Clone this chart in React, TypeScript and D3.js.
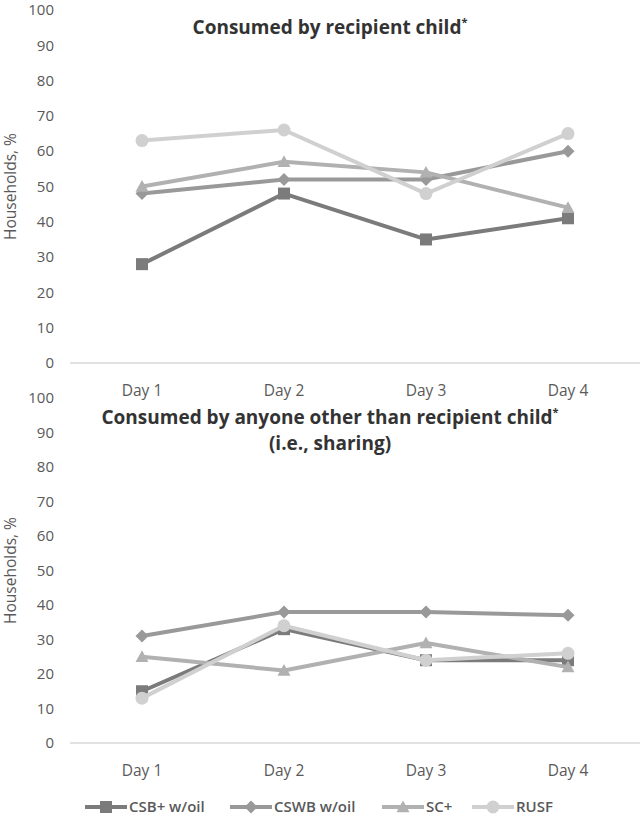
import React from "react";
import * as d3 from "d3";

const days = ["Day 1", "Day 2", "Day 3", "Day 4"];
const seriesNames = ["CSB+ w/oil", "CSWB w/oil", "SC+", "RUSF"];
const seriesColors = ["#7b7b7b", "#999999", "#b1b1b1", "#d0d0d0"];
const seriesMarkers = ["square", "diamond", "triangle", "circle"];

const recipientCSB = [28, 48, 35, 41];
const recipientCSWB = [48, 52, 52, 60];
const recipientSC = [50, 57, 54, 44];
const recipientRUSF = [63, 66, 48, 65];

const sharingCSB = [15, 33, 24, 24];
const sharingCSWB = [31, 38, 38, 37];
const sharingSC = [25, 21, 29, 22];
const sharingRUSF = [13, 34, 24, 26];

const yTicks = [0, 10, 20, 30, 40, 50, 60, 70, 80, 90, 100];

const FONT = "'Open Sans', 'Noto Sans', sans-serif";
const TEXT = "#595959";

function Marker({ type, x, y, color, s = 1 }: any) {
  if (type === "square") {
    const h = 6 * s;
    return <rect x={x - h} y={y - h} width={2 * h} height={2 * h} fill={color} />;
  }
  if (type === "diamond") {
    const h = 6.5 * s;
    return <path d={`M${x},${y - h}L${x + h},${y}L${x},${y + h}L${x - h},${y}Z`} fill={color} />;
  }
  if (type === "triangle") {
    const h = 6.5 * s;
    return <path d={`M${x},${y - h}L${x + h},${y + h * 0.8}L${x - h},${y + h * 0.8}Z`} fill={color} />;
  }
  return <circle cx={x} cy={y} r={6.5 * s} fill={color} />;
}

function Panel({ data, y0, y100, titleLines, titleY }: any) {
  const x = d3.scaleBand().domain(days).range([71, 639]);
  const y = d3.scaleLinear().domain([0, 100]).range([y0, y100]);
  const cx = (d: string) => (x(d) as number) + x.bandwidth() / 2;
  const line = d3
    .line<number>()
    .x((_, i) => cx(days[i]))
    .y((v) => y(v));
  return (
    <g>
      {yTicks.map((t) => (
        <text key={t} x={54} y={y(t)} dy="0.35em" textAnchor="end" fontSize={15} fill={TEXT} fontFamily={FONT}>
          {t}
        </text>
      ))}
      <line x1={70} x2={640} y1={y0} y2={y0} stroke="#d9d9d9" strokeWidth={1.3} />
      {days.map((d) => (
        <text key={d} x={cx(d)} y={y0 + 28} dy="0.35em" textAnchor="middle" fontSize={15.5} fill={TEXT} fontFamily={FONT}>
          {d}
        </text>
      ))}
      <text
        transform={`translate(11,${(y0 + y100) / 2}) rotate(-90)`}
        textAnchor="middle"
        dy="0.35em"
        fontSize={15.5}
        fill={TEXT}
        fontFamily={FONT}
      >
        Households, %
      </text>
      {titleLines.map((t: string, i: number) => (
        <text key={i} x={330} y={titleY + i * 26} dy="0.35em" textAnchor="middle" fontSize={19} fontWeight="bold" fill="#333333" fontFamily={FONT}>
          {t}
          {i === 0 ? <tspan fontSize={11} dy="-0.7em">*</tspan> : null}
        </text>
      ))}
      {data.map((vals: number[], si: number) => (
        <g key={si}>
          <path d={line(vals) as string} fill="none" stroke={seriesColors[si]} strokeWidth={4} strokeLinejoin="round" />
          {vals.map((v, i) => (
            <Marker key={i} type={seriesMarkers[si]} x={cx(days[i])} y={y(v)} color={seriesColors[si]} />
          ))}
        </g>
      ))}
    </g>
  );
}

export default function App() {
  const legendX = [85, 230, 382, 472];
  return (
    <svg width={642} height={819} style={{ position: "absolute", left: 0, top: 0, background: "#fff" }}>
      <Panel
        data={[recipientCSB, recipientCSWB, recipientSC, recipientRUSF]}
        y0={363}
        y100={10}
        titleLines={["Consumed by recipient child"]}
        titleY={27}
      />
      <Panel
        data={[sharingCSB, sharingCSWB, sharingSC, sharingRUSF]}
        y0={743}
        y100={398}
        titleLines={["Consumed by anyone other than recipient child", "(i.e., sharing)"]}
        titleY={417}
      />
      {seriesNames.map((n, i) => (
        <g key={n}>
          <line x1={legendX[i]} x2={legendX[i] + 42} y1={807} y2={807} stroke={seriesColors[i]} strokeWidth={4} />
          <Marker type={seriesMarkers[i]} x={legendX[i] + 21} y={807} color={seriesColors[i]} />
          <text x={legendX[i] + 44} y={807} dy="0.35em" fontSize={15} fontWeight="600" fill={TEXT} fontFamily={FONT}>
            {n}
          </text>
        </g>
      ))}
    </svg>
  );
}
